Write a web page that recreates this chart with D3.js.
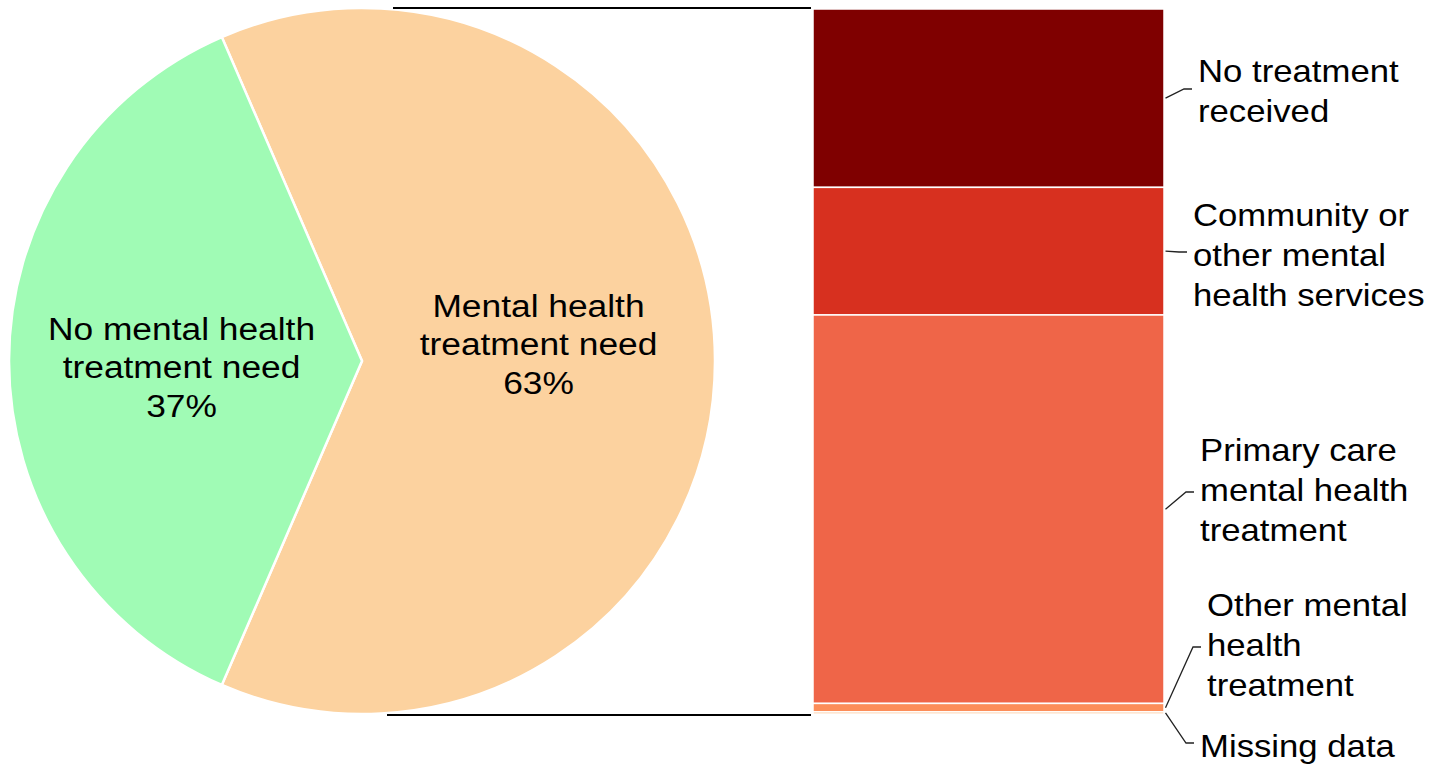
<!DOCTYPE html>
<html>
<head>
<meta charset="utf-8">
<script src="https://cdn.jsdelivr.net/npm/d3@7"></script>
<style>
  html, body { margin: 0; padding: 0; background: #ffffff; }
  svg { display: block; }
  text { font-family: "Liberation Sans", Arial, sans-serif; fill: #000; }
</style>
</head>
<body>
<svg id="chart" width="1430" height="766"></svg>
<script>
// ---- data ----
const pieCategories = ["Mental health treatment need", "No mental health treatment need"];
const pieValues = [63, 37];
const pieLabels = [["Mental health", "treatment need", "63%"], ["No mental health", "treatment need", "37%"]];
const pieColors = ["#fcd29f", "#a0fbb5"];

const barCategories = ["No treatment received", "Community or other mental health services", "Primary care mental health treatment", "Other mental health treatment", "Missing data"];
const barValues = [25.3, 18.1, 55.1, 1.2, 0.3];
const barLabels = [["No treatment", "received"], ["Community or", "other mental", "health services"], ["Primary care", "mental health", "treatment"], ["Other mental", "health", "treatment"], ["Missing data"]];
const barColors = ["#7f0000", "#d7301f", "#ef6548", "#fc8d59", "#fdbb84"];

// ---- layout ----
const svg = d3.select("#chart");
const cx = 362, cy = 361, r = 353;
const barX0 = 813, barX1 = 1164, barTop = 9, barBottom = 714;
const fontSize = 31, stretch = 1.12, lineH = 38.5;

// ---- pie ----
const need = pieValues[0] / d3.sum(pieValues);
const pie = d3.pie().sort(null).value(d => d)
  .startAngle(-(need - 0.5) * Math.PI)
  .endAngle(-(need - 0.5) * Math.PI + 2 * Math.PI);
const arcs = pie(pieValues);
const arc = d3.arc().innerRadius(0).outerRadius(r);
const gPie = svg.append("g").attr("transform", `translate(${cx},${cy})`);
gPie.selectAll("path").data(arcs).join("path")
  .attr("d", arc)
  .attr("fill", (d, i) => pieColors[i])
  .attr("stroke", "#fff").attr("stroke-width", 2.5);

// pie labels
const labelArc = d3.arc().innerRadius(r * 0.5).outerRadius(r * 0.5);
const pieLabelShift = [[0, -17], [-4, 6]];
arcs.forEach((a, i) => {
  const c = labelArc.centroid(a);
  const lines = pieLabels[i];
  const g = gPie.append("g")
    .attr("transform", `translate(${c[0] + pieLabelShift[i][0]},${c[1] + pieLabelShift[i][1]}) scale(${stretch + 0.02},1)`);
  lines.forEach((t, j) => {
    g.append("text")
      .attr("x", 0)
      .attr("y", (j - (lines.length - 1) / 2) * lineH + fontSize * 0.36)
      .attr("text-anchor", "middle")
      .style("font-size", fontSize + "px")
      .text(t);
  });
});

// ---- bar ----
const y = d3.scaleLinear().domain([0, d3.sum(barValues)]).range([barTop, barBottom]);
const cum = d3.cumsum(barValues);
const segs = barValues.map((v, i) => ({ v, i, y0: cum[i] - v, y1: cum[i] }));
svg.append("g").selectAll("rect").data(segs).join("rect")
  .attr("x", barX0).attr("width", barX1 - barX0)
  .attr("y", d => y(d.y0))
  .attr("height", d => Math.max(0, y(d.y1) - y(d.y0)))
  .attr("fill", d => barColors[d.i])
  .attr("stroke", "#fff").attr("stroke-width", 1.5);

// connector lines from pie to bar
svg.append("line")
  .attr("x1", cx + 31).attr("y1", cy - r).attr("x2", barX0 - 2).attr("y2", cy - r)
  .attr("stroke", "#000").attr("stroke-width", 2);
svg.append("line")
  .attr("x1", cx + 25).attr("y1", cy + r + 1).attr("x2", barX0 - 2).attr("y2", cy + r + 1)
  .attr("stroke", "#000").attr("stroke-width", 2);

// bar labels with leader lines
const labelX = [1198, 1193, 1200, 1207, 1200];
const labelFirstBaseline = [82, 226, 461, 616, 757];
const elbowY = [89, 252, 492, 647, 743];
const gLab = svg.append("g");
segs.forEach((d, i) => {
  const lines = barLabels[i];
  const g = gLab.append("g").attr("transform", `translate(${labelX[i]},0) scale(${stretch},1)`);
  lines.forEach((t, j) => {
    g.append("text")
      .attr("x", 0)
      .attr("y", labelFirstBaseline[i] + j * 40)
      .style("font-size", fontSize + "px")
      .text(t);
  });
  const ym = (y(d.y0) + y(d.y1)) / 2;
  const sx = barX1 + 1.5;
  const ex = labelX[i] - 6;
  const elbowX = ex - 8;
  gLab.append("path")
    .attr("d", d3.line()([[sx, ym], [elbowX, elbowY[i]], [ex, elbowY[i]]]))
    .attr("fill", "none").attr("stroke", "#222").attr("stroke-width", 1.3);
});
</script>
</body>
</html>
